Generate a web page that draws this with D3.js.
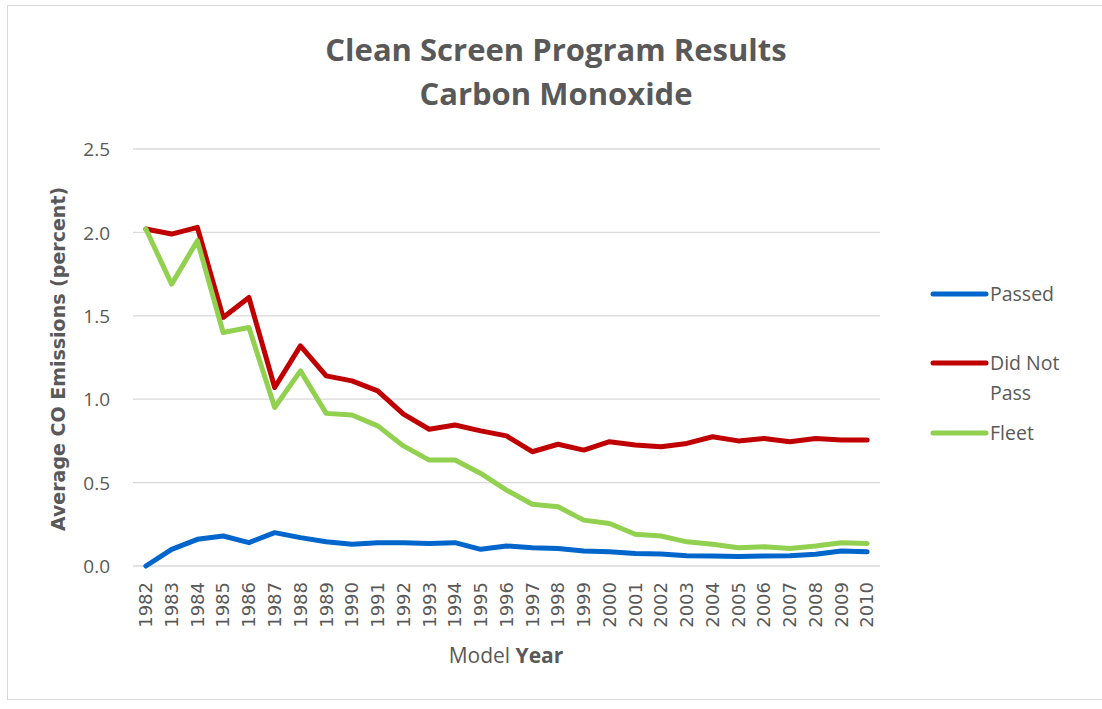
<!DOCTYPE html>
<html>
<head>
<meta charset="utf-8">
<script src="https://cdn.jsdelivr.net/npm/d3@7"></script>
<style>
  body { margin: 0; background: #fff; }
  svg { display: block; font-family: "Open Sans", "Noto Sans", sans-serif; }
</style>
</head>
<body>
<div id="chart"></div>
<script>
  // model years along the bottom
  var years = ['1982', '1983', '1984', '1985', '1986', '1987', '1988', '1989', '1990', '1991',
    '1992', '1993', '1994', '1995', '1996', '1997', '1998', '1999', '2000', '2001',
    '2002', '2003', '2004', '2005', '2006', '2007', '2008', '2009', '2010'];

  var passed = [0.0, 0.10, 0.16, 0.18, 0.14, 0.20, 0.17, 0.145, 0.13, 0.14,
    0.14, 0.135, 0.14, 0.10, 0.12, 0.11, 0.105, 0.09, 0.085, 0.075,
    0.072, 0.062, 0.06, 0.057, 0.06, 0.062, 0.07, 0.09, 0.085];

  var didNotPass = [2.02, 1.99, 2.03, 1.49, 1.61, 1.07, 1.32, 1.14, 1.11, 1.05,
    0.91, 0.82, 0.845, 0.81, 0.78, 0.685, 0.73, 0.695, 0.745, 0.725,
    0.715, 0.735, 0.775, 0.75, 0.765, 0.745, 0.765, 0.755, 0.755];

  var fleet = [2.02, 1.69, 1.95, 1.40, 1.43, 0.95, 1.17, 0.915, 0.905, 0.84,
    0.72, 0.635, 0.635, 0.555, 0.455, 0.37, 0.355, 0.275, 0.255, 0.19,
    0.18, 0.145, 0.13, 0.11, 0.115, 0.105, 0.12, 0.14, 0.135];

  var yTicks = [0, 0.5, 1.0, 1.5, 2.0, 2.5];

  var series = [
    { name: 'Passed', values: passed, color: '#0066cc' },
    { name: 'Did Not Pass', values: didNotPass, color: '#c00000' },
    { name: 'Fleet', values: fleet, color: '#92d050' }
  ];

  var W = 1102, H = 709;
  var textColor = '#595959';
  var plot = { left: 133, right: 880, top: 149, bottom: 566 };

  var svg = d3.select('#chart').append('svg')
    .attr('width', W)
    .attr('height', H);

  // chart area border
  svg.append('rect')
    .attr('x', 7.5).attr('y', 5.5)
    .attr('width', W).attr('height', 694)
    .attr('fill', '#fff')
    .attr('stroke', '#d9d9d9');

  var x = d3.scaleBand()
    .domain(years)
    .range([plot.left, plot.right]);

  var y = d3.scaleLinear()
    .domain([0, 2.5])
    .range([plot.bottom, plot.top]);

  // gridlines
  svg.append('g')
    .selectAll('line')
    .data(yTicks)
    .enter().append('line')
      .attr('x1', plot.left).attr('x2', plot.right)
      .attr('y1', function(d) { return y(d); })
      .attr('y2', function(d) { return y(d); })
      .attr('stroke', '#d9d9d9')
      .attr('stroke-width', 1.3);

  // y axis labels
  var yAxis = svg.append('g')
    .attr('transform', 'translate(' + (plot.left - 20) + ',0)')
    .call(d3.axisLeft(y).tickValues(yTicks).tickFormat(d3.format('.1f')).tickSize(0));
  yAxis.select('.domain').remove();
  yAxis.selectAll('text')
    .attr('font-family', '"Open Sans", sans-serif')
    .attr('font-size', '19px')
    .attr('fill', textColor)
    .attr('dy', '0.35em');

  // x axis labels, rotated
  var xAxis = svg.append('g')
    .attr('transform', 'translate(0,' + (plot.bottom + 10) + ')')
    .call(d3.axisBottom(x).tickSize(0));
  xAxis.select('.domain').remove();
  xAxis.selectAll('text')
    .attr('font-family', '"DejaVu Sans", sans-serif')
    .attr('font-size', '18px')
    .attr('fill', textColor)
    .attr('text-anchor', 'end')
    .attr('transform', 'rotate(-90)')
    .attr('x', -6)
    .attr('y', 0)
    .attr('dy', '0.35em');

  // the lines
  var line = d3.line()
    .x(function(d, i) { return x(years[i]) + x.bandwidth() / 2; })
    .y(function(d) { return y(d); });

  svg.append('g')
    .selectAll('path')
    .data(series)
    .enter().append('path')
      .attr('d', function(d) { return line(d.values); })
      .attr('fill', 'none')
      .attr('stroke', function(d) { return d.color; })
      .attr('stroke-width', 5)
      .attr('stroke-linejoin', 'round')
      .attr('stroke-linecap', 'round');

  // title
  var title = svg.append('text')
    .attr('text-anchor', 'middle')
    .attr('font-family', '"Open Sans", sans-serif')
    .attr('font-weight', 'bold')
    .attr('font-size', '31px')
    .attr('fill', textColor);
  title.append('tspan').attr('x', 556).attr('y', 61).text('Clean Screen Program Results');
  title.append('tspan').attr('x', 556).attr('y', 105).text('Carbon Monoxide');

  // axis titles
  svg.append('text')
    .attr('transform', 'translate(65,359) rotate(-90)')
    .attr('text-anchor', 'middle')
    .attr('font-family', '"DejaVu Sans", sans-serif')
    .attr('font-weight', 'bold')
    .attr('font-size', '19px')
    .attr('fill', textColor)
    .text('Average CO Emissions (percent)');

  var xTitle = svg.append('text')
    .attr('x', 506)
    .attr('y', 663)
    .attr('text-anchor', 'middle')
    .attr('font-family', '"Open Sans", sans-serif')
    .attr('font-size', '21px')
    .attr('fill', textColor);
  xTitle.append('tspan').text('Model ');
  xTitle.append('tspan').attr('font-weight', 'bold').text('Year');

  // legend
  var legendRows = [
    { s: series[0], y: 294, lines: ['Passed'] },
    { s: series[1], y: 363, lines: ['Did Not', 'Pass'] },
    { s: series[2], y: 433, lines: ['Fleet'] }
  ];

  var legend = svg.append('g')
    .selectAll('g')
    .data(legendRows)
    .enter().append('g')
      .attr('transform', function(d) { return 'translate(933,' + d.y + ')'; });

  legend.append('line')
    .attr('x1', 0).attr('x2', 53)
    .attr('stroke', function(d) { return d.s.color; })
    .attr('stroke-width', 5)
    .attr('stroke-linecap', 'round');

  legend.append('text')
    .attr('font-family', '"Open Sans", sans-serif')
    .attr('font-size', '19.5px')
    .attr('fill', textColor)
    .each(function(d) {
      var t = d3.select(this);
      d.lines.forEach(function(l, i) {
        t.append('tspan')
          .attr('x', 57)
          .attr('y', i * 30)
          .attr('dy', '0.35em')
          .text(l);
      });
    });
</script>
</body>
</html>
